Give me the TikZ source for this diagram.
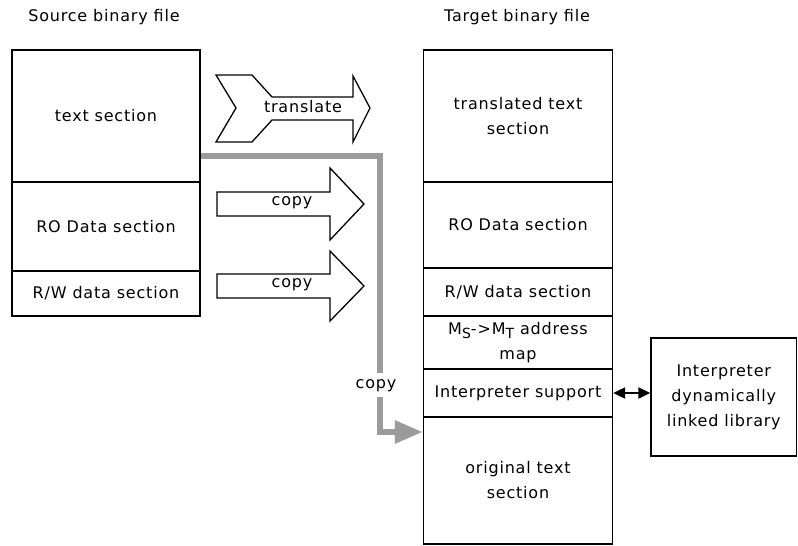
\documentclass[tikz,border=0pt]{standalone}
\usepackage{fontspec}
\setmainfont{DejaVu Sans}[LetterSpace=5.0]
\usetikzlibrary{arrows.meta}
\definecolor{pathgray}{RGB}{155,155,155}
\newcommand\dfont{\fontsize{16}{25}\selectfont}
\begin{document}
\begin{tikzpicture}[x=1pt,y=-1pt,
  cell/.style={draw,line width=1.4pt,inner sep=0pt,align=center,font=\dfont},
  lbl/.style={inner sep=1pt,font=\dfont,align=center},
  blockarrow/.style={draw,line width=1.3pt,fill=white,line join=miter},
  grayline/.style={draw=pathgray,line width=6pt,line join=miter},
  linktip/.tip={Triangle[length=12pt,width=11pt]},
]
\useasboundingbox[fill=white] (0,0) rectangle (798,546);
% titles
\node[lbl] (srctitle) at (104,17) {Source binary file};
\node[lbl] (tgttitle) at (517,17) {Target binary file};
% source file
\node[cell,minimum width=188pt,minimum height=132pt] (stext) at (106,116) {text section};
\node[cell,minimum width=188pt,minimum height=89pt] (sro) at (106,226.5) {RO Data section};
\node[cell,minimum width=188pt,minimum height=45pt] (srw) at (106,293.5) {R/W data section};
% target file
\node[cell,minimum width=189pt,minimum height=132pt] (ttext) at (518,116) {translated text\\section};
\node[cell,minimum width=189pt,minimum height=86pt] (tro) at (518,225) {RO Data section};
\node[cell,minimum width=189pt,minimum height=48pt] (trw) at (518,292) {R/W data section};
\node[cell,minimum width=189pt,minimum height=53pt] (tmap) at (518,342.5) {M\raisebox{-4pt}{\fontsize{14}{14}\selectfont S}-\kern1pt>M\raisebox{-4pt}{\fontsize{14}{14}\selectfont T} address\\map};
\node[cell,minimum width=189pt,minimum height=48pt] (tinterp) at (518,393) {Interpreter support};
\node[cell,minimum width=189pt,minimum height=127pt] (torig) at (518,480.5) {original text\\section};
% library
\node[cell,minimum width=145.5pt,minimum height=118pt] (dll) at (723.75,397) {Interpreter\\dynamically\\linked library};
% translate arrow
\draw[blockarrow] (216,75) -- (252,75) -- (272,97) -- (353,97) -- (353,76) -- (370,108)
  -- (353,142) -- (353,120) -- (272,120) -- (252,142) -- (216,142) -- (236,108) -- cycle;
\node[lbl] (translbl) at (303,107) {translate};
% copy arrows
\draw[blockarrow] (217,192) -- (330,192) -- (330,168) -- (364,204) -- (330,240) -- (330,216) -- (217,216) -- cycle;
\node[lbl] (copy1) at (292,203) {copy};
\draw[blockarrow] (217,274) -- (330,274) -- (330,251) -- (364,286) -- (330,321) -- (330,298) -- (217,298) -- cycle;
\node[lbl] (copy2) at (292,285) {copy};
% gray copy path
\coordinate (gstart) at (200.7,155.5);
\coordinate (gcorner) at (380,155.5);
\coordinate (gtop) at (380,373);
\coordinate (gbot) at (380,397);
\coordinate (gturn) at (380,432);
\node[lbl] (copy3) at (376,386) {copy};
\draw[grayline] (gstart) -- (gcorner) -- (gtop);
\draw[grayline,-{Triangle[length=28pt,width=22pt]}] (gbot) -- (gturn) -- (gturn -| torig.west);
% link to library
\draw[line width=2.2pt,linktip-linktip]
  (tinterp.east) -- (tinterp.east -| dll.west);
\end{tikzpicture}
\end{document}
